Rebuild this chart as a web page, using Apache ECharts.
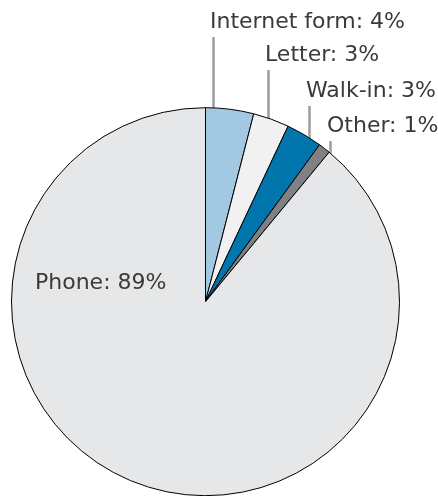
<!DOCTYPE html>
<html>
<head>
<meta charset="utf-8">
<style>
  html, body { margin: 0; padding: 0; background: #ffffff; }
  #chart { width: 438px; height: 496px; }
</style>
<script src="https://cdn.jsdelivr.net/npm/echarts@6/dist/echarts.min.js"></script>
</head>
<body>
<div id="chart"></div>
<script>
// Contact channels and their share of all contacts (%)
const channels = ['Internet form', 'Letter', 'Walk-in', 'Other', 'Phone'];
const shares = [4, 3, 3, 1, 89];
const sliceColors = ['#a3c9e2', '#f1f1f2', '#0076ad', '#808184', '#e6e7e8'];

// Pie geometry
const CX = 205.5, CY = 301.7, R = 194;

// Label placement: left edge and vertical middle of each label text,
// plus how far inside the rim the leader line starts.
const labelPlace = {
  'Internet form': { x: 210, y: 22, inset: 9 },
  'Letter':        { x: 265, y: 55, inset: 9 },
  'Walk-in':       { x: 306, y: 91, inset: 7 },
  'Other':         { x: 327, y: 126, inset: 0 },
  'Phone':         { x: 35, y: 283 }
};

const leaderStyle = { color: '#9c9c9c', width: 2.5 };

const chart = echarts.init(document.getElementById('chart'), null, { renderer: 'canvas' });

chart.setOption({
  animation: false,
  series: [{
    type: 'pie',
    center: [CX, CY],
    radius: [0, R],
    startAngle: 90,
    clockwise: true,
    avoidLabelOverlap: false,
    itemStyle: { borderColor: '#000000', borderWidth: 1 },
    label: {
      show: true,
      position: 'outside',
      fontFamily: 'DejaVu Sans',
      fontSize: 22,
      color: '#3a3a3a',
      formatter: p => p.name + ': ' + p.value + '%'
    },
    labelLine: {
      show: true,
      lineStyle: leaderStyle
    },
    emphasis: { disabled: true },
    labelLayout: function (params) {
      const name = channels[params.dataIndex];
      const pl = labelPlace[name];
      if (name === 'Phone') {
        return { x: pl.x, y: pl.y, align: 'left', verticalAlign: 'middle' };
      }
      const lx = pl.x + 3.5;
      const rr = R - pl.inset;
      const bottom = CY - Math.sqrt(rr * rr - (lx - CX) * (lx - CX));
      const top = pl.y + 15;
      return {
        x: pl.x, y: pl.y, align: 'left', verticalAlign: 'middle',
        labelLinePoints: [[lx, bottom], [lx, top], [lx, top]]
      };
    },
    data: channels.map((c, i) => ({
      name: c,
      value: shares[i],
      itemStyle: { color: sliceColors[i] },
      labelLine: { show: c !== 'Phone', lineStyle: leaderStyle }
    }))
  }]
});
</script>
</body>
</html>
